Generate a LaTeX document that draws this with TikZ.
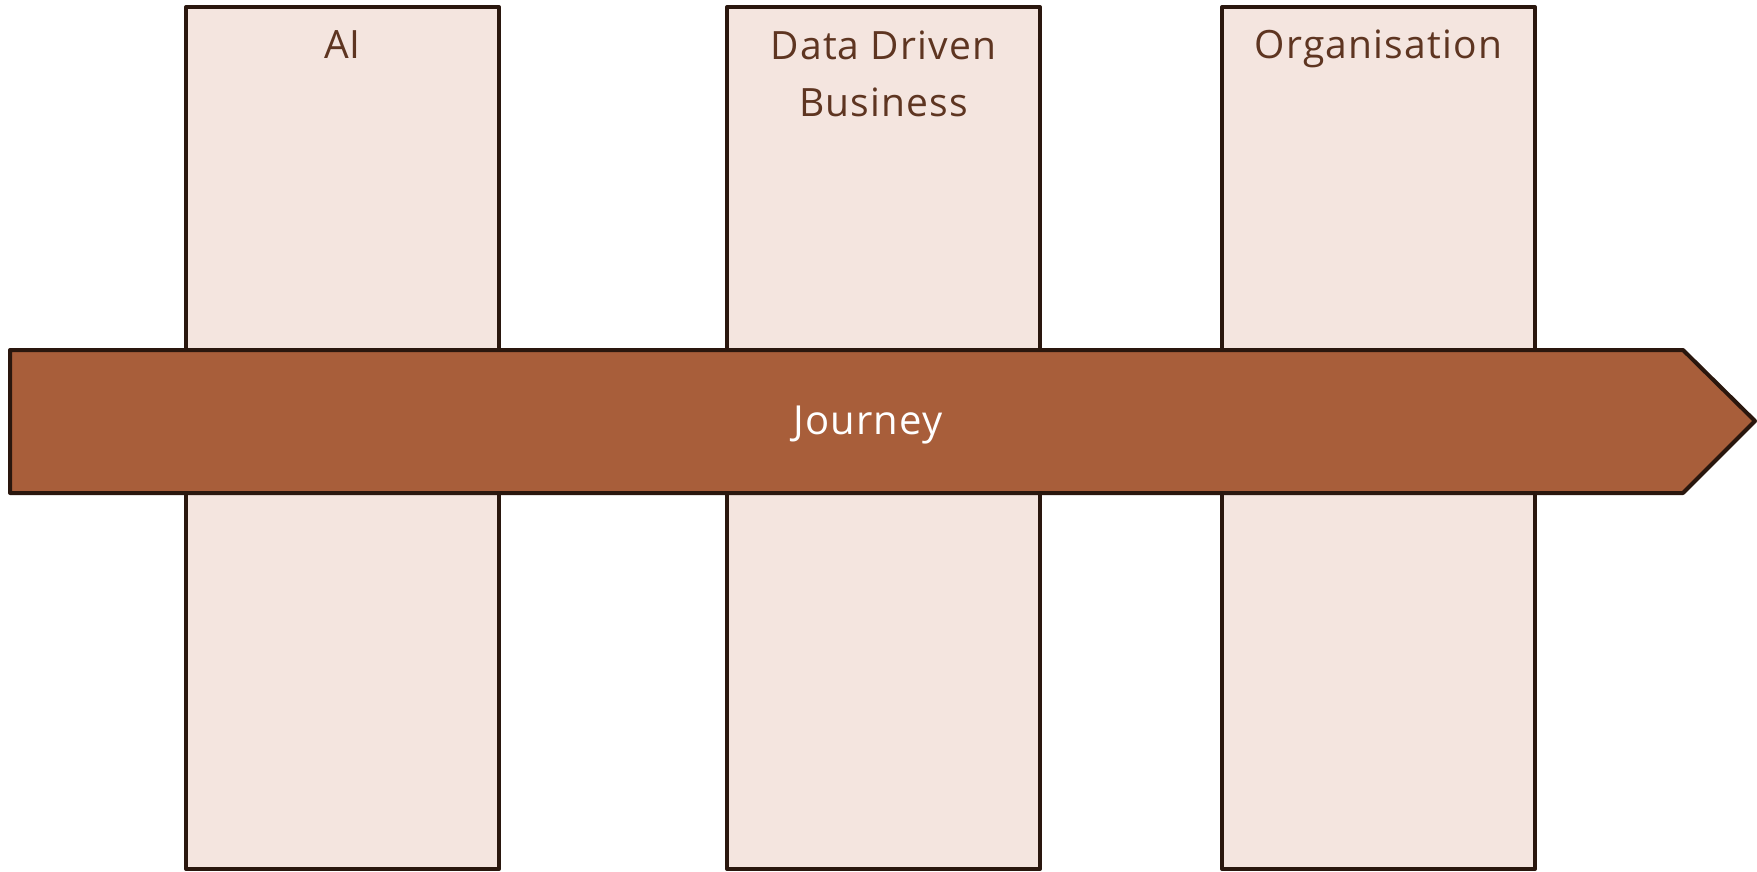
\documentclass[tikz,border=0pt]{standalone}
\usepackage{fontspec}
\setmainfont[LetterSpace=3]{Open Sans}
\definecolor{journeybrown}{HTML}{A85E3A}
\definecolor{columnpink}{HTML}{F4E5DF}
\definecolor{edgebrown}{HTML}{2A170E}
\definecolor{labelbrown}{HTML}{5E3521}
\begin{document}
\begin{tikzpicture}[x=0.5pt,y=-0.5pt]
            \tikzstyle{every node}+=[inner sep=0pt]
            \tikzstyle{column}=[draw=edgebrown, fill=columnpink, line width=2pt, line join=round]
            \tikzstyle{collabel}=[anchor=base, align=center, text=labelbrown, font=\fontsize{19.5}{28.5}\selectfont]
            \useasboundingbox (0,0) rectangle (1757,872);
            \draw [column] (186,7) rectangle (499,869);
            \node [collabel] (ai) at (342.5,59) {AI};
            \draw [column] (727,7) rectangle (1040,869);
            \node [collabel, anchor=north] (ddb) at (883.5,30) {Data Driven\\Business};
            \draw [column] (1222,7) rectangle (1535,869);
            \node [collabel] (org) at (1378.5,59) {Organisation};
            \draw [draw=edgebrown, fill=journeybrown, line width=2pt, line join=round] (10,350) -- (1683,350) -- (1755,421) -- (1683,493) -- (10,493) -- cycle;
            \node [anchor=base, text=white, font=\fontsize{20}{28.5}\selectfont] (journey) at (868,434) {Journey};
        \end{tikzpicture}
\end{document}
